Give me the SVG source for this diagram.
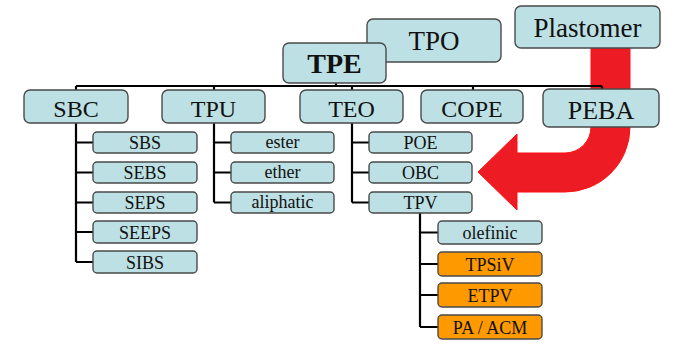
<svg xmlns="http://www.w3.org/2000/svg" width="686" height="350" viewBox="0 0 686 350">
<style>
.b{fill:#BCE0E3;stroke:#4a4a4a;stroke-width:1.4}
.o{fill:#FF9900;stroke:#4a4a4a;stroke-width:1.4}
.t{font-family:"Liberation Serif","Times New Roman",serif;fill:#111;text-anchor:middle}
.l{font-size:24px}
.s{font-size:18px}
.c{fill:none;stroke:#000;stroke-width:2.2}
</style>
<rect width="686" height="350" fill="#fff"/>
<g id="arrow">
<path d="M591,48 L591,127 A26,26 0 0 1 565,153 L517,153 L517,134 L478,172 L517,210 L517,192 L565,192 A65,65 0 0 0 630,127 L630,48 Z" fill="#ED1C24" stroke="#FF1010" stroke-width="1"/>
</g>
<g id="connectors">
<path class="c" d="M76,86 H602 M336,83 V86 M76,86 V90 M214,86 V90 M352,86 V90 M473,86 V90 M602,86 V89"/>
<path class="c" d="M76,123 V262 M76,142.5 H93 M76,172.5 H93 M76,202.5 H93 M76,232 H93 M76,262 H93"/>
<path class="c" d="M214,123 V202.5 M214,142.5 H231 M214,172.5 H231 M214,202.5 H231"/>
<path class="c" d="M352,123 V202.5 M352,142.5 H369 M352,172.5 H369 M352,202.5 H369"/>
<path class="c" d="M420,213 V327 M420,232.5 H438 M420,264 H438 M420,295 H438 M420,327 H438"/>
</g>
<g id="TPO"><rect class="b" x="367" y="19" width="134" height="43" rx="6"/><text class="t" x="434" y="50" font-size="27">TPO</text></g>
<g id="TPE"><rect class="b" x="283" y="43" width="103" height="40" rx="6"/><text class="t" x="334.5" y="73" font-size="28" font-weight="bold">TPE</text></g>
<g id="Plastomer"><rect class="b" x="515" y="6" width="145" height="42" rx="6"/><text class="t" x="587.5" y="37" font-size="27">Plastomer</text></g>
<g id="SBC"><rect class="b" x="24" y="90" width="104" height="33" rx="6"/><text class="t l" x="76" y="117">SBC</text></g>
<g id="TPU"><rect class="b" x="162" y="90" width="103" height="33" rx="6"/><text class="t l" x="213.5" y="117">TPU</text></g>
<g id="TEO"><rect class="b" x="300" y="90" width="103" height="33" rx="6"/><text class="t l" x="351.5" y="117">TEO</text></g>
<g id="COPE"><rect class="b" x="421" y="90" width="102" height="33" rx="6"/><text class="t l" x="472" y="117">COPE</text></g>
<g id="PEBA"><rect class="b" x="543" y="89" width="116" height="38" rx="6"/><text class="t" x="601" y="119" font-size="26">PEBA</text></g>
<g id="SBS"><rect class="b" x="93" y="132" width="104" height="21" rx="4"/><text class="t s" x="145" y="149">SBS</text></g>
<g id="SEBS"><rect class="b" x="93" y="162" width="104" height="21" rx="4"/><text class="t s" x="145" y="179">SEBS</text></g>
<g id="SEPS"><rect class="b" x="93" y="192" width="104" height="21" rx="4"/><text class="t s" x="145" y="209">SEPS</text></g>
<g id="SEEPS"><rect class="b" x="93" y="221" width="104" height="22" rx="4"/><text class="t s" x="145" y="238.5">SEEPS</text></g>
<g id="SIBS"><rect class="b" x="93" y="251" width="104" height="22" rx="4"/><text class="t s" x="145" y="268.5">SIBS</text></g>
<g id="ester"><rect class="b" x="231" y="132" width="103" height="21" rx="4"/><text class="t s" x="282.5" y="148">ester</text></g>
<g id="ether"><rect class="b" x="231" y="162" width="103" height="21" rx="4"/><text class="t s" x="282.5" y="178">ether</text></g>
<g id="aliphatic"><rect class="b" x="231" y="192" width="103" height="21" rx="4"/><text class="t s" x="282.5" y="208">aliphatic</text></g>
<g id="POE"><rect class="b" x="369" y="132" width="103" height="21" rx="4"/><text class="t s" x="420.5" y="149">POE</text></g>
<g id="OBC"><rect class="b" x="369" y="162" width="103" height="21" rx="4"/><text class="t s" x="420.5" y="179">OBC</text></g>
<g id="TPV"><rect class="b" x="369" y="192" width="103" height="21" rx="4"/><text class="t s" x="420.5" y="209">TPV</text></g>
<g id="olefinic"><rect class="b" x="438" y="221" width="104" height="23" rx="4"/><text class="t s" x="490" y="238.5">olefinic</text></g>
<g id="TPSiV"><rect class="o" x="438" y="252" width="104" height="24" rx="4"/><text class="t s" x="490" y="270.5">TPSiV</text></g>
<g id="ETPV"><rect class="o" x="438" y="283" width="104" height="24" rx="4"/><text class="t s" x="490" y="301.5">ETPV</text></g>
<g id="PAACM"><rect class="o" x="438" y="315" width="104" height="24" rx="4"/><text class="t s" x="490" y="333.5">PA / ACM</text></g>
</svg>
